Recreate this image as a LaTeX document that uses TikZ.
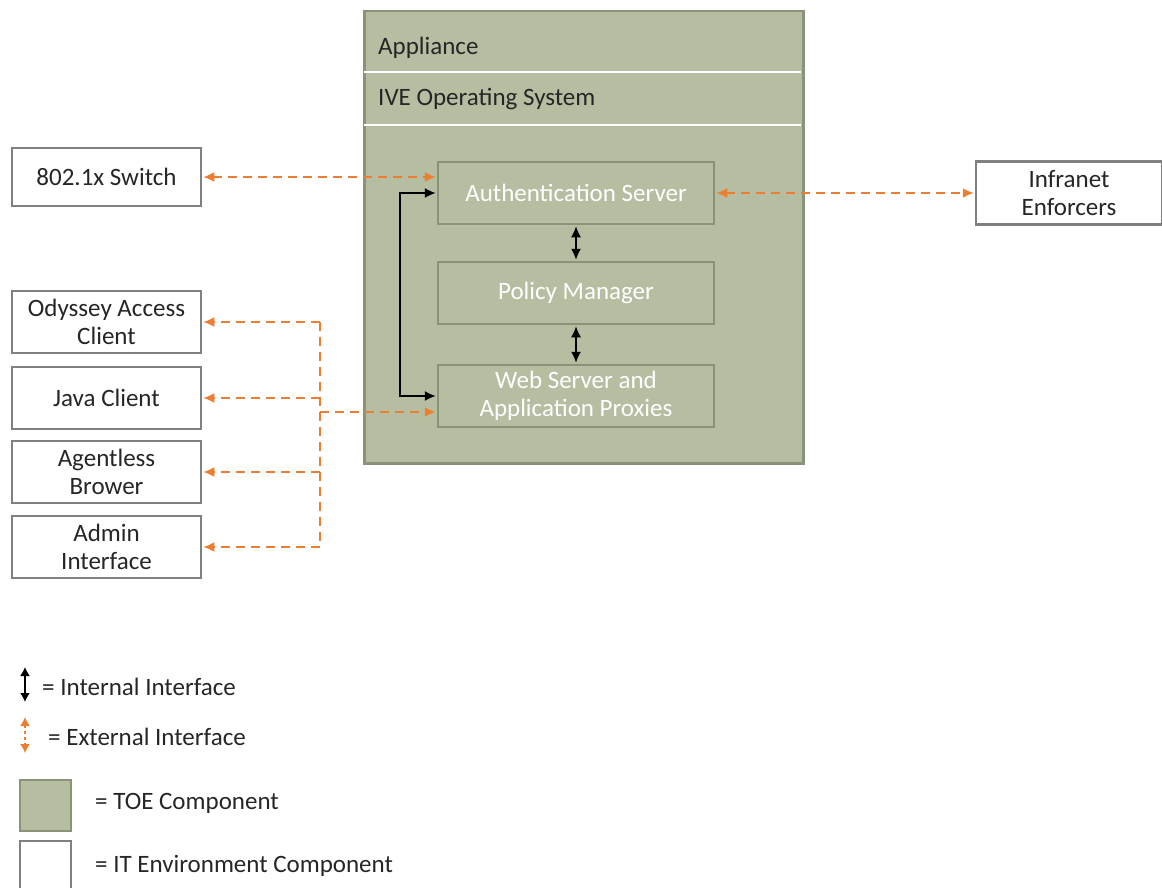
\documentclass[tikz,border=0pt]{standalone}
\usepackage{fontspec}
\setmainfont{Carlito}
\usetikzlibrary{arrows.meta,calc}
\definecolor{toe}{RGB}{181,190,161}
\definecolor{toeedge}{RGB}{138,146,122}
\definecolor{envedge}{RGB}{128,128,128}
\definecolor{ext}{RGB}{237,125,49}
\begin{document}
\begin{tikzpicture}[x=1pt,y=-1pt,
  txt/.style={font=\fontsize{25}{28}\selectfont, text=black!85, inner sep=0pt},
  toebox/.style={draw=toeedge, line width=2.5pt, fill=toe},
  comp/.style={toebox, minimum width=276pt, minimum height=62pt, align=center, font=\fontsize{25}{28}\selectfont, text=white, inner sep=0pt},
  envbox/.style={draw=envedge, line width=2.5pt, fill=white, minimum width=189pt, minimum height=60pt, align=center, font=\fontsize{25}{28}\selectfont, text=black!85, inner sep=0pt},
  intarrow/.style={black, line width=1.6pt, {Latex[length=11pt,width=10pt]}-{Latex[length=11pt,width=10pt]}},
  extline/.style={ext, line width=2pt, dash pattern=on 9pt off 6pt},
  extarrow/.style={extline, {Latex[length=11pt,width=10pt]}-{Latex[length=11pt,width=10pt]}},
  exttip/.style={extline, -{Latex[length=11pt,width=10pt]}}
]
\useasboundingbox (0,0) rectangle (1162,888);
% appliance
\node[toebox, minimum width=439pt, minimum height=452pt, inner sep=0pt, anchor=north west] (app) at (363,10) {};
\draw[white, line width=2pt] (364,72) -- (801,72);
\draw[white, line width=2pt] (364,125) -- (801,125);
\node[txt, anchor=west] (applbl) at (378,48) {Appliance};
\node[txt, anchor=west] (ivelbl) at (378,99) {IVE Operating System};
% components
\node[comp] (auth) at (576,193) {Authentication Server};
\node[comp] (pm) at (576,293) {Policy Manager};
\node[comp] (web) at (576,396) {Web Server and\\Application Proxies};
% env boxes
\node[envbox, minimum height=58pt] (sw) at (106.5,177) {802.1x Switch};
\node[envbox, minimum width=186pt, minimum height=63pt] (inf) at (1069,193) {Infranet\\Enforcers};
\node[envbox, minimum height=62pt] (ody) at (106.5,322) {Odyssey Access\\Client};
\node[envbox, minimum height=62pt] (java) at (106.5,398) {Java Client};
\node[envbox, minimum height=62pt] (agent) at (106.5,472) {Agentless\\Brower};
\node[envbox, minimum height=62pt] (admin) at (106.5,547) {Admin\\Interface};
% internal interfaces
\draw[intarrow, shorten <=1pt, shorten >=1pt] (auth.south) -- (pm.north);
\draw[intarrow, shorten <=1pt, shorten >=1pt] (pm.south) -- (web.north);
\draw[intarrow, shorten <=1pt, shorten >=1pt] (auth.west) -- ++(-37,0) |- (web.west);
% external interfaces
\draw[extarrow, shorten <=1pt, shorten >=1pt] (sw.east) -- (auth.west |- sw.east);
\draw[extarrow, shorten <=1pt, shorten >=1pt] (auth.east) -- (inf.west);
\coordinate (bustop) at (320,322);
\coordinate (busweb) at (320,412);
\draw[extline] (bustop) -- (bustop |- admin.east);
\draw[exttip, shorten >=1pt] (bustop) -- (ody.east);
\draw[exttip, shorten >=1pt] (bustop |- java.east) -- (java.east);
\draw[exttip, shorten >=1pt] (bustop |- agent.east) -- (agent.east);
\draw[exttip, shorten >=1pt] (bustop |- admin.east) -- (admin.east);
\draw[exttip, line width=2.6pt, shorten >=1pt] (busweb) -- (web.west |- busweb);
% legend
\coordinate (li1) at (25,667);
\coordinate (li2) at (25,702);
\draw[intarrow, {Latex[length=9pt,width=10pt]}-{Latex[length=9pt,width=10pt]}] (li1) -- (li2);
\node[txt, anchor=west] (lint) at (42,687) {= Internal Interface};
\coordinate (le1) at (25,717);
\coordinate (le2) at (25,753);
\draw[ext, line width=1.5pt, dash pattern=on 3pt off 3pt, {Latex[length=9pt,width=10pt]}-{Latex[length=9pt,width=10pt]}] (le1) -- (le2);
\node[txt, anchor=west] (lext) at (48,737) {= External Interface};
\node[toebox, line width=2pt, minimum width=51pt, minimum height=51pt, inner sep=0pt, anchor=north west] (ltoe) at (19,779) {};
\node[txt, anchor=west] (ltoetxt) at (95,803) {= TOE Component};
\node[draw=envedge, line width=2pt, fill=white, minimum width=51pt, minimum height=51pt, inner sep=0pt, anchor=north west] (lenv) at (19,840) {};
\node[txt, anchor=west] (lenvtxt) at (95,866) {= IT Environment Component};
\end{tikzpicture}
\end{document}
